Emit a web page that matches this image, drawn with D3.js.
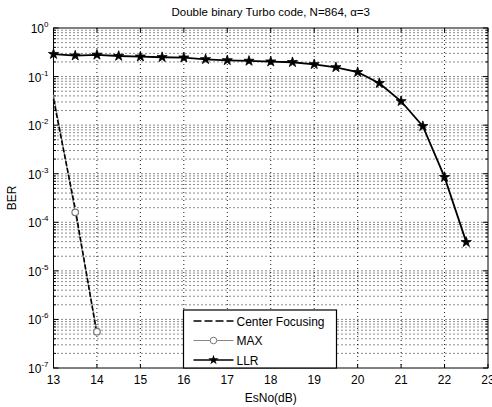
<!DOCTYPE html>
<html>
<head>
<script src="https://d3js.org/d3.v7.min.js"></script>
<style>
  body { margin: 0; background: #fff; }
  text { font-family: "Liberation Sans", Arial, sans-serif; fill: #000; }
</style>
</head>
<body>
<svg id="plt"></svg>
<script>
// data
const esno = [13,13.5,14,14.5,15,15.5,16,16.5,17,17.5,18,18.5,19,19.5,20,20.5,21,21.5,22,22.5];
const llrBer = [0.29,0.27,0.28,0.265,0.257,0.25,0.245,0.227,0.216,0.21,0.203,0.197,0.179,0.155,0.123,0.073,0.031,0.0095,0.00085,0.000039];
const maxEsno = [13,13.5,14];
const maxBer = [0.042,0.00016,0.00000056];
const cfEsno = [13,13.5,14];
const cfBer = [0.034,0.00019,0.0000005];
const xTicks = [13,14,15,16,17,18,19,20,21,22,23];
const yExps = [0,-1,-2,-3,-4,-5,-6,-7];
const legendNames = ['Center Focusing','MAX','LLR'];

const W = 492, H = 407;
const m = {l: 53.5, r: 4, t: 28, b: 39};
const svg = d3.select('#plt').attr('width', W).attr('height', H);

const x = d3.scaleLinear().domain([13,23]).range([m.l, W - m.r]);
const y = d3.scaleLog().domain([1e-7,1]).range([H - m.b, m.t]);

const g = svg.append('g');

// grid (matlab style dotted)
let minors = [];
for (let e = -7; e < 0; e++) for (let k = 2; k <= 9; k++) minors.push(k * Math.pow(10, e));
g.selectAll('.ygrid').data(minors.concat(yExps.slice(1, -1).map(e => Math.pow(10, e))))
  .join('line')
  .attr('x1', m.l).attr('x2', W - m.r)
  .attr('y1', d => y(d)).attr('y2', d => y(d))
  .attr('stroke', '#000').attr('stroke-width', 0.9)
  .attr('stroke-dasharray', '1,3');
g.selectAll('.xgrid').data(xTicks.slice(1, -1))
  .join('line')
  .attr('x1', d => x(d)).attr('x2', d => x(d))
  .attr('y1', m.t).attr('y2', H - m.b)
  .attr('stroke', '#000').attr('stroke-width', 0.9)
  .attr('stroke-dasharray', '1,3');

// box + ticks
g.append('rect').attr('x', m.l).attr('y', m.t)
  .attr('width', W - m.r - m.l).attr('height', H - m.b - m.t)
  .attr('fill', 'none').attr('stroke', '#000').attr('stroke-width', 1);
xTicks.forEach(t => {
  g.append('line').attr('x1', x(t)).attr('x2', x(t)).attr('y1', H - m.b).attr('y2', H - m.b - 4).attr('stroke', '#000');
  g.append('line').attr('x1', x(t)).attr('x2', x(t)).attr('y1', m.t).attr('y2', m.t + 4).attr('stroke', '#000');
  g.append('text').attr('x', x(t)).attr('y', H - m.b + 16).attr('text-anchor', 'middle')
    .attr('font-size', 12).text(t);
});
minors.forEach(v => {
  g.append('line').attr('x1', m.l).attr('x2', m.l + 2.5).attr('y1', y(v)).attr('y2', y(v)).attr('stroke', '#000');
  g.append('line').attr('x1', W - m.r).attr('x2', W - m.r - 2.5).attr('y1', y(v)).attr('y2', y(v)).attr('stroke', '#000');
});
yExps.forEach(e => {
  const v = Math.pow(10, e);
  g.append('line').attr('x1', m.l).attr('x2', m.l + 5).attr('y1', y(v)).attr('y2', y(v)).attr('stroke', '#000');
  g.append('line').attr('x1', W - m.r).attr('x2', W - m.r - 5).attr('y1', y(v)).attr('y2', y(v)).attr('stroke', '#000');
  const t = g.append('text').attr('x', m.l - 5).attr('y', y(v) + 5).attr('text-anchor', 'end').attr('font-size', 12);
  t.append('tspan').text('10');
  t.append('tspan').attr('dy', -6).attr('font-size', 8).text(e);
});

// curves
const line = (xs) => d3.line().x((d, i) => x(xs[i])).y(d => y(d));
g.append('path').datum(maxBer).attr('d', line(maxEsno))
  .attr('fill', 'none').attr('stroke', '#888').attr('stroke-width', 1.2);
g.append('path').datum(cfBer).attr('d', line(cfEsno))
  .attr('fill', 'none').attr('stroke', '#000').attr('stroke-width', 1.6).attr('stroke-dasharray', '5,2');
g.append('path').datum(llrBer).attr('d', line(esno))
  .attr('fill', 'none').attr('stroke', '#000').attr('stroke-width', 1.8);

const star = d3.symbol().type(d3.symbolStar).size(32);
g.selectAll('.llr').data(llrBer).join('path')
  .attr('transform', (d, i) => `translate(${x(esno[i])},${y(d)})`)
  .attr('d', star).attr('fill', '#000').attr('stroke', '#000').attr('stroke-width', 0.8);
g.selectAll('.maxm').data(maxBer.slice(1)).join('circle')
  .attr('cx', (d, i) => x(maxEsno[i + 1])).attr('cy', d => y(d)).attr('r', 3.3)
  .attr('fill', '#fff').attr('stroke', '#777').attr('stroke-width', 1.2);

// legend
const lx = 183.5, ly = 310, lw = 153, lh = H - m.b - ly;
const lg = svg.append('g');
lg.append('rect').attr('x', lx).attr('y', ly).attr('width', lw).attr('height', lh)
  .attr('fill', '#fff').attr('stroke', '#000').attr('stroke-width', 1.2);
legendNames.forEach((name, i) => {
  const yy = ly + 11 + i * 19.5;
  const s = lg.append('line').attr('x1', lx + 10).attr('x2', lx + 50).attr('y1', yy).attr('y2', yy);
  if (i === 0) s.attr('stroke', '#000').attr('stroke-width', 1.6).attr('stroke-dasharray', '8,3');
  if (i === 1) {
    s.attr('stroke', '#888').attr('stroke-width', 1);
    lg.append('circle').attr('cx', lx + 30).attr('cy', yy).attr('r', 3.3).attr('fill', '#fff').attr('stroke', '#777');
  }
  if (i === 2) {
    s.attr('stroke', '#000').attr('stroke-width', 1.6);
    lg.append('path').attr('transform', `translate(${lx + 30},${yy})`).attr('d', star).attr('fill', '#000');
  }
  lg.append('text').attr('x', lx + 53).attr('y', yy + 4.5).attr('font-size', 12).text(name);
});

// titles
svg.append('text').attr('x', (m.l + W - m.r) / 2).attr('y', 16).attr('text-anchor', 'middle')
  .attr('font-size', 11.5).text('Double binary Turbo code, N=864, \u03b1=3');
svg.append('text').attr('x', (m.l + W - m.r) / 2).attr('y', 402).attr('text-anchor', 'middle')
  .attr('font-size', 12).text('EsNo(dB)');
svg.append('text').attr('transform', `translate(16,${(m.t + H - m.b) / 2}) rotate(-90)`)
  .attr('text-anchor', 'middle').attr('font-size', 12).text('BER');
</script>
</body>
</html>
